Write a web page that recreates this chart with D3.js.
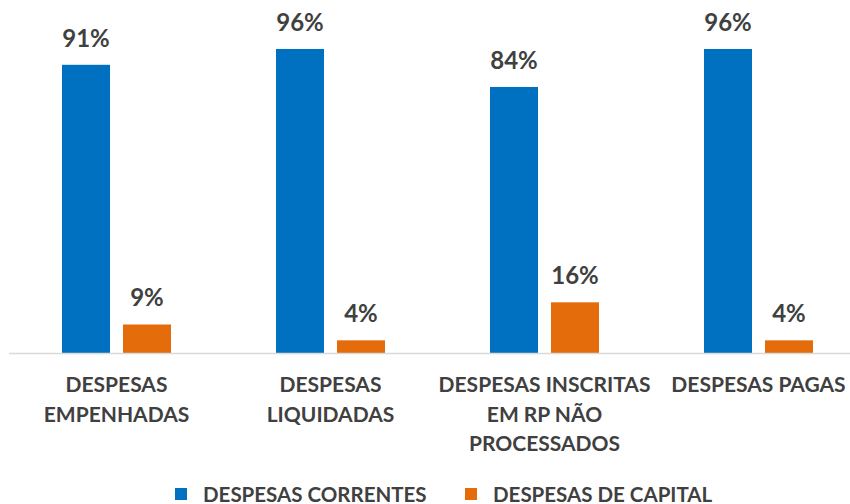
<!DOCTYPE html>
<html>
<head>
<meta charset="utf-8">
<script src="https://cdn.jsdelivr.net/npm/d3@7/dist/d3.min.js"></script>
<style>
  html, body { margin: 0; padding: 0; background: #ffffff; }
  svg { display: block; }
  text { font-family: Lato, "Open Sans", sans-serif; font-weight: 700; fill: #404040; }
</style>
</head>
<body>
<svg id="chart" width="850" height="504"></svg>
<script>
// Categories (each split into the lines shown under the axis)
const categories = [
  "DESPESAS EMPENHADAS",
  "DESPESAS LIQUIDADAS",
  "DESPESAS INSCRITAS EM RP NÃO PROCESSADOS",
  "DESPESAS PAGAS"
];
const categoryLines = [
  ["DESPESAS", "EMPENHADAS"],
  ["DESPESAS", "LIQUIDADAS"],
  ["DESPESAS INSCRITAS", "EM RP NÃO", "PROCESSADOS"],
  ["DESPESAS PAGAS"]
];
const seriesNames = ["DESPESAS CORRENTES", "DESPESAS DE CAPITAL"];
const correntes = [91, 96, 84, 96];
const capital = [9, 4, 16, 4];
const colors = ["#0070C0", "#E46C0A"];

const rows = categories.map((c, i) => ({
  category: c,
  values: [correntes[i], capital[i]]
}));

const svg = d3.select("#chart");

const x0 = d3.scaleBand().domain(categories).range([9.5, 865.5]).padding(0);
const x1 = d3.scaleBand().domain(seriesNames).range([52.5, 161.5])
  .paddingInner(2 - 109 / 61).paddingOuter(0);
const y = d3.scaleLinear().domain([0, 100]).range([353, 36.3]);

// Bars
const groups = svg.selectAll("g.cat").data(rows).join("g")
  .attr("class", "cat")
  .attr("transform", d => `translate(${x0(d.category)},0)`);

groups.selectAll("rect").data(d => d.values.map((v, k) => ({ v, s: seriesNames[k], k })))
  .join("rect")
  .attr("x", d => x1(d.s))
  .attr("width", x1.bandwidth())
  .attr("y", d => y(d.v))
  .attr("height", d => y(0) - y(d.v))
  .attr("fill", d => colors[d.k]);

// Value labels
groups.selectAll("text.val").data(d => d.values.map((v, k) => ({ v, s: seriesNames[k], k })))
  .join("text")
  .attr("class", "val")
  .attr("x", d => x1(d.s) + x1.bandwidth() / 2)
  .attr("y", d => y(d.v) - 18)
  .attr("text-anchor", "middle")
  .style("font-size", "24px")
  .text(d => d.v + "%");

// Baseline axis
svg.append("line")
  .attr("x1", 9).attr("x2", 866)
  .attr("y1", y(0) + 0.5).attr("y2", y(0) + 0.5)
  .attr("stroke", "#D9D9D9").attr("stroke-width", 1.5);

// Category labels
categories.forEach((c, i) => {
  const t = svg.append("text")
    .attr("text-anchor", "middle")
    .style("font-size", "21px");
  categoryLines[i].forEach((line, j) => {
    t.append("tspan")
      .attr("x", x0(c) + x0.bandwidth() / 2)
      .attr("y", 392 + j * 29.5)
      .text(line);
  });
});

// Legend
const legendX = [175, 465];
seriesNames.forEach((s, k) => {
  const g = svg.append("g").attr("transform", `translate(${legendX[k]},488)`);
  g.append("rect").attr("width", 12).attr("height", 12).attr("fill", colors[k]);
  g.append("text").attr("x", 28).attr("y", 13.5)
    .style("font-size", "20.5px").text(s);
});
</script>
</body>
</html>
